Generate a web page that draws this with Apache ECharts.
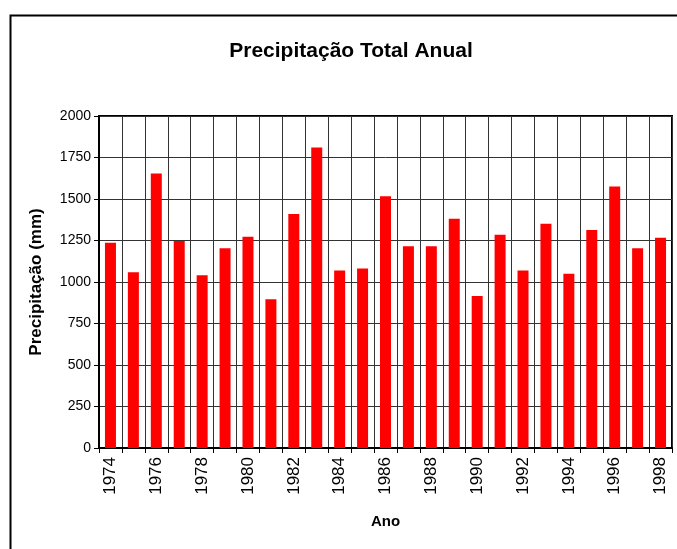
<!DOCTYPE html>
<html>
<head>
<meta charset="utf-8">
<script src="https://cdn.jsdelivr.net/npm/echarts@6/dist/echarts.min.js"></script>
<style>
  html, body { margin: 0; padding: 0; background: #fff; }
  #main { width: 677px; height: 549px; }
</style>
</head>
<body>
<div id="main"></div>
<script>
// anos e precipitação total (mm)
var anos = ['1974','1975','1976','1977','1978','1979','1980','1981','1982','1983','1984','1985','1986',
            '1987','1988','1989','1990','1991','1992','1993','1994','1995','1996','1997','1998'];
var precipitacao = [1236, 1058, 1653, 1247, 1040, 1204, 1272, 896, 1409, 1810, 1070, 1082, 1517,
                    1215, 1215, 1381, 916, 1285, 1070, 1351, 1050, 1313, 1575, 1204, 1266];
var yTicks = [0, 250, 500, 750, 1000, 1250, 1500, 1750, 2000];

var myChart = echarts.init(document.getElementById('main'));
var font = 'Arial, "Liberation Sans", sans-serif';

myChart.setOption({
  animation: false,
  backgroundColor: '#fff',
  grid: {
    left: 99, top: 116, right: 5, bottom: 101,
    show: true, borderColor: '#000', borderWidth: 2, backgroundColor: 'transparent'
  },
  graphic: [
    {
      type: 'rect', silent: true,
      shape: { x: 10.5, y: 15.5, width: 700, height: 600 },
      style: { fill: 'none', stroke: '#000', lineWidth: 2 }
    },
    {
      type: 'text', x: 351, y: 51,
      style: {
        text: 'Precipitação Total Anual', align: 'center', verticalAlign: 'middle',
        font: 'bold 21px ' + font, fill: '#000'
      }
    }
  ],
  xAxis: {
    type: 'category',
    data: anos,
    name: 'Ano',
    nameLocation: 'middle',
    nameGap: 66,
    nameTextStyle: { fontFamily: font, fontWeight: 'bold', fontSize: 15, color: '#000' },
    axisLine: { lineStyle: { color: '#000', width: 2 } },
    axisTick: { show: true, interval: 0, length: 5, lineStyle: { color: '#000' } },
    axisLabel: { interval: 1, rotate: 90, fontFamily: font, fontSize: 17, color: '#000', margin: 9 },
    splitLine: { show: true, interval: 0, lineStyle: { color: '#333', width: 1 } }
  },
  yAxis: {
    type: 'value',
    min: 0, max: 2000, interval: 250,
    name: 'Precipitação (mm)',
    nameLocation: 'middle',
    nameGap: 54,
    nameTextStyle: { fontFamily: font, fontWeight: 'bold', fontSize: 17, color: '#000' },
    axisLine: { show: true, lineStyle: { color: '#000', width: 2 } },
    axisTick: { show: true, length: 5, lineStyle: { color: '#000' } },
    axisLabel: {
      fontFamily: font, fontSize: 14, color: '#000', margin: 8,
      formatter: function (v) { return yTicks.indexOf(v) >= 0 ? String(v) : ''; }
    },
    splitLine: { show: true, lineStyle: { color: '#333', width: 1 } }
  },
  series: [{
    name: 'Precipitação',
    type: 'bar',
    data: precipitacao,
    barWidth: 11,
    itemStyle: { color: '#ff0000' }
  }]
});
</script>
</body>
</html>
